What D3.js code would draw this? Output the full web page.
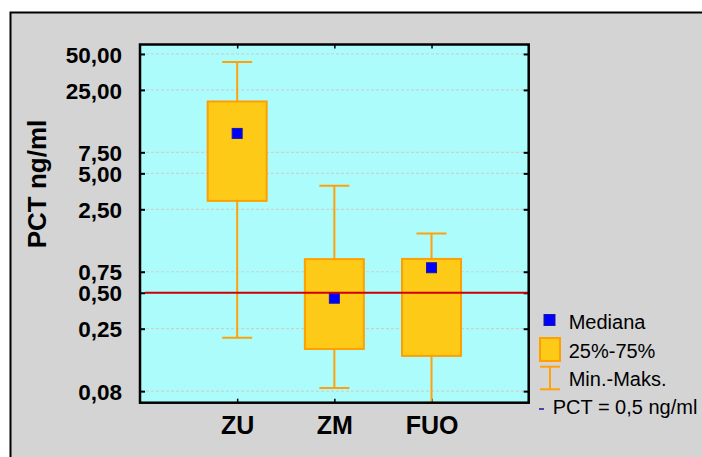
<!DOCTYPE html>
<html>
<head>
<meta charset="utf-8">
<script src="https://cdn.jsdelivr.net/npm/d3@7"></script>
<style>
  html, body { margin: 0; padding: 0; background: #ffffff; overflow: hidden; }
  svg { display: block; font-family: "Liberation Sans", Arial, sans-serif; }
</style>
</head>
<body>
<svg id="chart" width="702" height="457"></svg>
<script>
// PCT (ng/ml) by group: min, quartiles, median, max
const categories = ["ZU", "ZM", "FUO"];
const minValues    = [0.21, 0.0795, 0.05];
const q1Values     = [2.94, 0.169, 0.148];
const medianValues = [10.8, 0.45, 0.81];
const q3Values     = [20.0, 0.957, 0.96];
const maxValues    = [42.8, 3.94, 1.57];

const yTickValues = [50, 25, 7.5, 5, 2.5, 0.75, 0.5, 0.25, 0.075];
const yTickLabels = ["50,00", "25,00", "7,50", "5,00", "2,50", "0,75", "0,50", "0,25", "0,08"];
const threshold = 0.5;

const legendLabels = ["Mediana", "25%-75%", "Min.-Maks.", "PCT = 0,5 ng/ml"];

const svg = d3.select("#chart");

const plot = { left: 140, top: 44.5, right: 528.7, bottom: 402.7 };

const colors = {
  panel: "#d4d4d4",
  plotBg: "#adfcfc",
  grid: "#c8d2d2",
  boxFill: "#fdca17",
  boxStroke: "#ff9f00",
  whisker: "#ffa20a",
  median: "#0000ff",
  medianStroke: "#1a1aa0",
  ref: "#cc0000"
};

// outer panel (right and bottom edges run past the page)
svg.append("rect").attr("x", 0).attr("y", 0).attr("width", 702).attr("height", 457).attr("fill", "#ffffff");
svg.append("rect")
  .attr("x", 10).attr("y", 12).attr("width", 692).attr("height", 445)
  .attr("fill", colors.panel);
svg.append("path")
  .attr("d", "M10.5,457 V12.5 H702")
  .attr("fill", "none").attr("stroke", "#000").attr("stroke-width", 2);

const x = d3.scalePoint().domain(categories).range([plot.left, plot.right]).padding(1);
const y = d3.scaleLog().domain([0.06, 60]).range([plot.bottom, plot.top]);

// plot background
svg.append("rect")
  .attr("x", plot.left).attr("y", plot.top)
  .attr("width", plot.right - plot.left).attr("height", plot.bottom - plot.top)
  .attr("fill", colors.plotBg);

svg.append("defs").append("clipPath").attr("id", "plotClip")
  .append("rect")
  .attr("x", plot.left).attr("y", plot.top)
  .attr("width", plot.right - plot.left).attr("height", plot.bottom - plot.top);

// dashed gridlines
svg.append("g").selectAll("line").data(yTickValues).join("line")
  .attr("x1", plot.left + 6).attr("x2", plot.right - 4)
  .attr("y1", d => y(d)).attr("y2", d => y(d))
  .attr("stroke", colors.grid).attr("stroke-width", 1.2)
  .attr("stroke-dasharray", "3,2");

// left axis with labels, ticks pointing inward
const yAxisLeft = d3.axisLeft(y)
  .tickValues(yTickValues)
  .tickFormat((d, i) => yTickLabels[i])
  .tickSize(-5).tickPadding(18);
const gLeft = svg.append("g").attr("transform", `translate(${plot.left},0)`).call(yAxisLeft);
gLeft.select(".domain").remove();
gLeft.selectAll(".tick line").attr("stroke", "#000").attr("stroke-width", 2);
gLeft.selectAll(".tick text")
  .attr("font-family", "'Liberation Sans', Arial, sans-serif")
  .attr("font-size", 22.5).attr("font-weight", "bold").attr("fill", "#000")
  .attr("dy", "0.36em");

// right axis ticks (no labels)
const gRight = svg.append("g").attr("transform", `translate(${plot.right},0)`)
  .call(d3.axisRight(y).tickValues(yTickValues).tickFormat("").tickSize(-5));
gRight.select(".domain").remove();
gRight.selectAll(".tick line").attr("stroke", "#000").attr("stroke-width", 2);

// top and bottom category ticks
const gTop = svg.append("g").attr("transform", `translate(0,${plot.top})`)
  .call(d3.axisTop(x).tickFormat("").tickSize(-4));
gTop.select(".domain").remove();
gTop.selectAll(".tick line").attr("stroke", "#000").attr("stroke-width", 1.5);

const gBottom = svg.append("g").attr("transform", `translate(0,${plot.bottom})`)
  .call(d3.axisBottom(x).tickSize(-4).tickPadding(14));
gBottom.select(".domain").remove();
gBottom.selectAll(".tick line").attr("stroke", "#000").attr("stroke-width", 1.5);
gBottom.selectAll(".tick text")
  .attr("font-family", "'Liberation Sans', Arial, sans-serif")
  .attr("font-size", 25).attr("font-weight", "bold").attr("fill", "#000")
  .attr("dy", "0.71em");

// box plots
const boxes = svg.append("g").attr("clip-path", "url(#plotClip)");
const boxHalf = 29.5, capHalf = 15;
const rows = categories.map((c, i) => ({
  c, min: minValues[i], q1: q1Values[i], med: medianValues[i], q3: q3Values[i], max: maxValues[i]
}));

// whiskers
boxes.selectAll("line.whisker").data(rows).join("line").attr("class", "whisker")
  .attr("x1", d => x(d.c)).attr("x2", d => x(d.c))
  .attr("y1", d => y(d.max)).attr("y2", d => y(d.min))
  .attr("stroke", colors.whisker).attr("stroke-width", 2);
boxes.selectAll("line.capMax").data(rows).join("line").attr("class", "capMax")
  .attr("x1", d => x(d.c) - capHalf).attr("x2", d => x(d.c) + capHalf)
  .attr("y1", d => y(d.max)).attr("y2", d => y(d.max))
  .attr("stroke", colors.whisker).attr("stroke-width", 2);
boxes.selectAll("line.capMin").data(rows).join("line").attr("class", "capMin")
  .attr("x1", d => x(d.c) - capHalf).attr("x2", d => x(d.c) + capHalf)
  .attr("y1", d => y(d.min)).attr("y2", d => y(d.min))
  .attr("stroke", colors.whisker).attr("stroke-width", 2);

// interquartile boxes
boxes.selectAll("rect.box").data(rows).join("rect").attr("class", "box")
  .attr("x", d => x(d.c) - boxHalf).attr("width", boxHalf * 2)
  .attr("y", d => y(d.q3)).attr("height", d => y(d.q1) - y(d.q3))
  .attr("fill", colors.boxFill).attr("stroke", colors.boxStroke).attr("stroke-width", 2);

// reference line at PCT = 0,5 ng/ml
svg.append("line")
  .attr("x1", plot.left + 5).attr("x2", plot.right)
  .attr("y1", y(threshold)).attr("y2", y(threshold))
  .attr("stroke", colors.ref).attr("stroke-width", 2);

// medians
boxes.selectAll("rect.med").data(rows).join("rect").attr("class", "med")
  .attr("x", d => x(d.c) - 5).attr("y", d => y(d.med) - 5)
  .attr("width", 10).attr("height", 10)
  .attr("fill", colors.median).attr("stroke", colors.medianStroke).attr("stroke-width", 1);

// plot frame
svg.append("rect")
  .attr("x", plot.left).attr("y", plot.top)
  .attr("width", plot.right - plot.left).attr("height", plot.bottom - plot.top)
  .attr("fill", "none").attr("stroke", "#000").attr("stroke-width", 2.5);

// y-axis title
svg.append("text")
  .attr("transform", "translate(46,184) rotate(-90)")
  .attr("text-anchor", "middle")
  .attr("font-size", 26).attr("font-weight", "bold").attr("fill", "#000")
  .text("PCT ng/ml");

// legend
const lg = svg.append("g");
lg.append("rect").attr("x", 544).attr("y", 314.5).attr("width", 11).attr("height", 11)
  .attr("fill", colors.median).attr("stroke", colors.medianStroke).attr("stroke-width", 1);
lg.append("rect").attr("x", 540).attr("y", 338).attr("width", 20).attr("height", 23)
  .attr("fill", colors.boxFill).attr("stroke", colors.boxStroke).attr("stroke-width", 2);
lg.append("line").attr("x1", 540).attr("x2", 560).attr("y1", 366.7).attr("y2", 366.7)
  .attr("stroke", colors.whisker).attr("stroke-width", 2);
lg.append("line").attr("x1", 540).attr("x2", 560).attr("y1", 389.3).attr("y2", 389.3)
  .attr("stroke", colors.whisker).attr("stroke-width", 2);
lg.append("line").attr("x1", 550).attr("x2", 550).attr("y1", 366.7).attr("y2", 389.3)
  .attr("stroke", colors.whisker).attr("stroke-width", 2);
lg.append("line").attr("x1", 539).attr("x2", 544).attr("y1", 409).attr("y2", 409)
  .attr("stroke", "#1a1a90").attr("stroke-width", 1.5);

const legendPos = [[568.7, 328.7], [568.7, 357.7], [568.7, 385.7], [552.7, 414.3]];
lg.selectAll("text").data(legendLabels).join("text")
  .attr("x", (d, i) => legendPos[i][0]).attr("y", (d, i) => legendPos[i][1])
  .attr("font-size", 20).attr("fill", "#000")
  .text(d => d);
</script>
</body>
</html>
